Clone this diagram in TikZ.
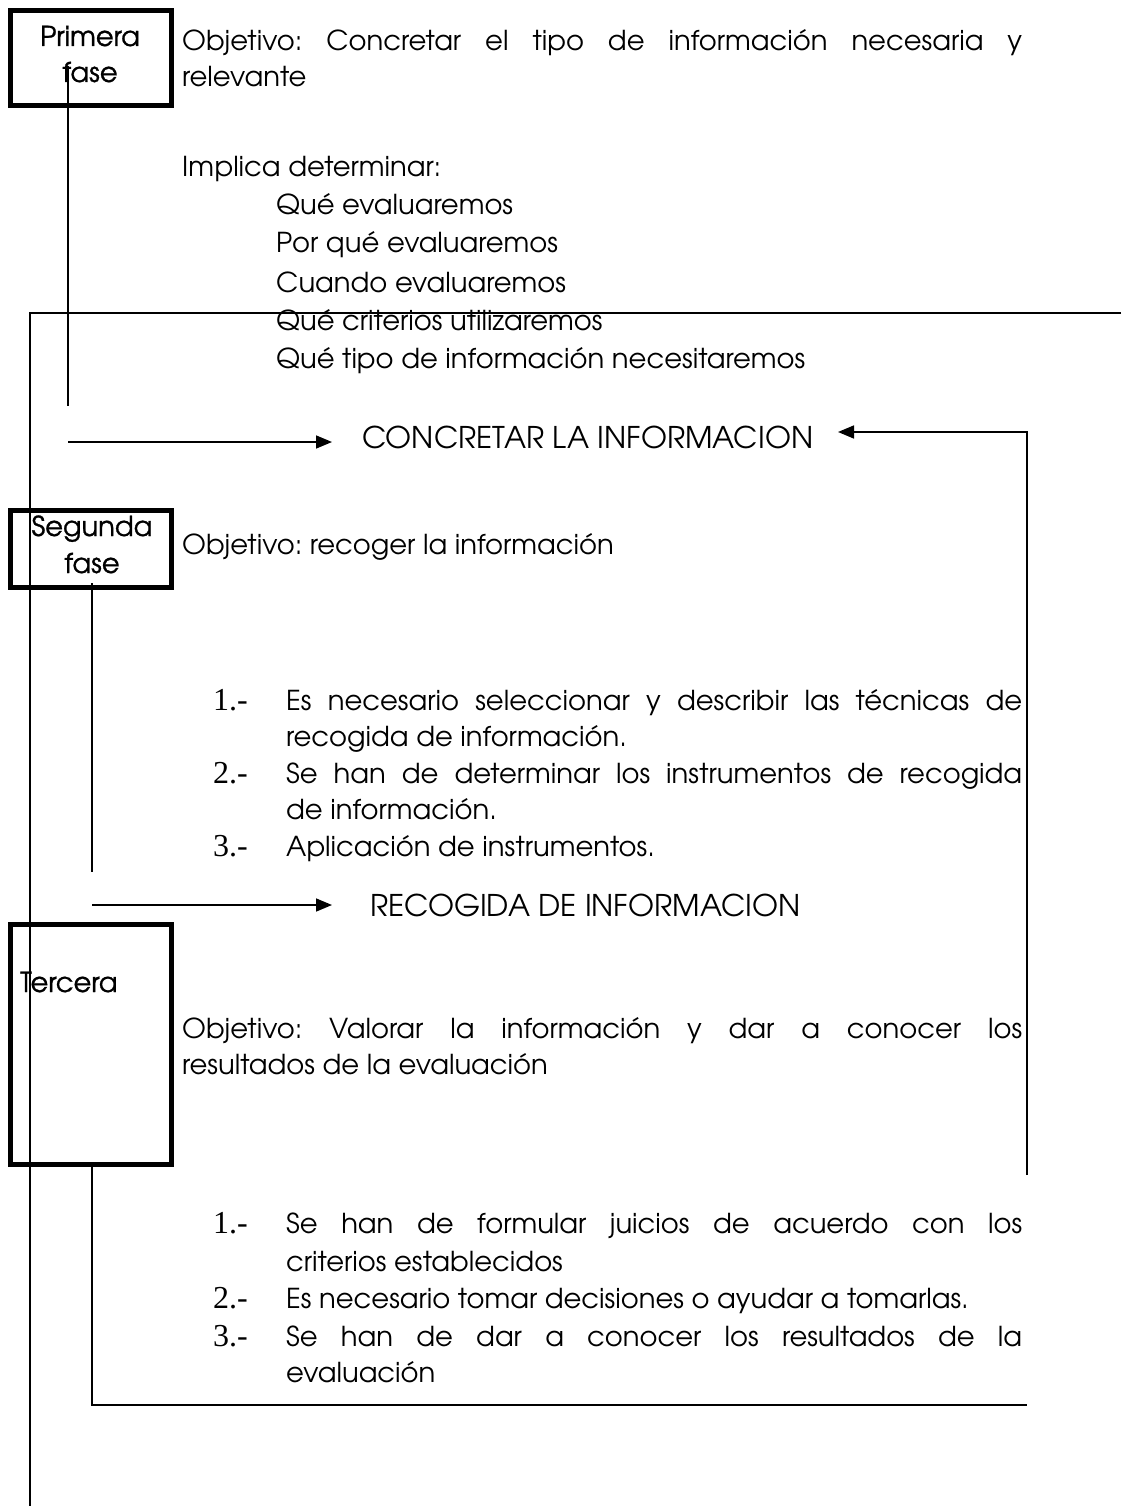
\documentclass[tikz,border=0pt]{standalone}
\usepackage{fontspec}
\setmainfont{TeX Gyre Adventor}
\newfontfamily\numfont{Liberation Serif}
\newfontfamily\boxfam{TeX Gyre Adventor}[FakeBold=1]
\usetikzlibrary{arrows.meta}
\newlength\reflen
\frenchspacing
\begin{document}
\settowidth\reflen{\fontsize{10pt}{12pt}\selectfont Qué tipo de información necesitaremos}%
\pgfmathsetmacro\fs{10*529/\reflen}%
\pgfmathsetmacro\fc{1.09*\fs}%
\def\bodyfont{\fontsize{\fs pt}{30pt}\selectfont}%
\def\capfont{\fontsize{\fc pt}{30pt}\selectfont}%
\def\boxfont{\boxfam\fontsize{\fs pt}{30pt}\selectfont}%
\def\J#1{\makebox[840pt][s]{#1}}%
\def\K#1{\makebox[736pt][s]{#1}}%
\def\N#1{{\numfont\fontsize{32pt}{34pt}\selectfont #1}}%
\begin{tikzpicture}[x=1pt,y=-1pt,
  txt/.style={anchor=base west, inner sep=0pt, font=\bodyfont},
  captxt/.style={anchor=base west, inner sep=0pt, font=\capfont},
  lbl/.style={anchor=base, inner sep=0pt, font=\boxfont},
  conn/.style={line width=1.6pt},
  fasebox/.style={draw, line width=5pt, inner sep=0pt},
  arr/.style={conn, -{Triangle[length=16pt,width=13pt]}}]
\useasboundingbox (0,0) rectangle (1133,1506);

% boxes
\node[fasebox, minimum width=161pt, minimum height=95pt] (b1) at (91,58) {};
\node[fasebox, minimum width=161pt, minimum height=77pt] (b2) at (91,548.5) {};
\node[fasebox, minimum width=161pt, minimum height=240pt] (b3) at (91,1044.5) {};
\node[lbl] (b1a) at (90,46) {Primera};
\node[lbl] (b1b) at (90,82) {fase};
\node[lbl] (b2a) at (92,536) {Segunda};
\node[lbl] (b2b) at (92,573) {fase};
\node[lbl, anchor=base west] (b3a) at (20,992) {Tercera};

% phase 1 text
\node[txt] (o1a) at (182,51) {\J{Objetivo: Concretar el tipo de información necesaria y}};
\node[txt] (o1b) at (182,87) {relevante};
\node[txt] (imp) at (182,177) {Implica determinar:};
\node[txt] (i1) at (276,215) {Qué evaluaremos};
\node[txt] (i2) at (276,253) {Por qué evaluaremos};
\node[txt] (i3) at (276,292) {Cuando evaluaremos};
\node[txt] (i4) at (276,330) {Qué criterios utilizaremos};
\node[txt] (i5) at (276,368) {Qué tipo de información necesitaremos};
\node[captxt] (c1) at (362,448) {CONCRETAR LA INFORMACION};

% phase 2 text
\node[txt] (o2) at (182,554) {Objetivo: recoger la información};
\node[txt] (n21) at (213,710) {\N{1.-}};
\node[txt] (t21a) at (286,710) {\K{Es necesario seleccionar y describir las técnicas de}};
\node[txt] (t21b) at (286,746) {recogida de información.};
\node[txt] (n22) at (213,783) {\N{2.-}};
\node[txt] (t22a) at (286,783) {\K{Se han de determinar los instrumentos de recogida}};
\node[txt] (t22b) at (286,819) {de información.};
\node[txt] (n23) at (213,856) {\N{3.-}};
\node[txt] (t23) at (286,856) {Aplicación de instrumentos.};
\node[captxt] (c2) at (370,916) {RECOGIDA DE INFORMACION};

% phase 3 text
\node[txt] (o3a) at (182,1038) {\J{Objetivo: Valorar la información y dar a conocer los}};
\node[txt] (o3b) at (182,1074) {resultados de la evaluación};
\node[txt] (n31) at (213,1233) {\N{1.-}};
\node[txt] (t31a) at (286,1233) {\K{Se han de formular juicios de acuerdo con los}};
\node[txt] (t31b) at (286,1271) {criterios establecidos};
\node[txt] (n32) at (213,1308) {\N{2.-}};
\node[txt] (t32) at (286,1308) {Es necesario tomar decisiones o ayudar a tomarlas.};
\node[txt] (n33) at (213,1346) {\N{3.-}};
\node[txt] (t33a) at (286,1346) {\K{Se han de dar a conocer los resultados de la}};
\node[txt] (t33b) at (286,1382) {evaluación};

% connector coordinates
\coordinate (p1s) at (68,66);
\coordinate (p1e) at (68,406);
\coordinate (a1s) at (68,442);
\coordinate (a1e) at (332,442);
\coordinate (topR) at (1121,313);
\coordinate (topL) at (30,313);
\coordinate (botL) at (30,1506);
\coordinate (fbS) at (1027,1175);
\coordinate (fbC) at (1027,432);
\coordinate (fbE) at (838,432);
\coordinate (p2s) at (92,583);
\coordinate (p2e) at (92,872);
\coordinate (a2s) at (92,905);
\coordinate (a2e) at (332,905);
\coordinate (p3s) at (92,1165);
\coordinate (p3c) at (92,1405);
\coordinate (p3e) at (1027,1405);

\draw[conn] (p1s) -- (p1e);
\draw[arr] (a1s) -- (a1e);
\draw[conn] (topR) -- (topL) -- (botL);
\draw[arr] (fbS) -- (fbC) -- (fbE);
\draw[conn] (p2s) -- (p2e);
\draw[arr] (a2s) -- (a2e);
\draw[conn] (p3s) -- (p3c) -- (p3e);
\end{tikzpicture}
\end{document}
